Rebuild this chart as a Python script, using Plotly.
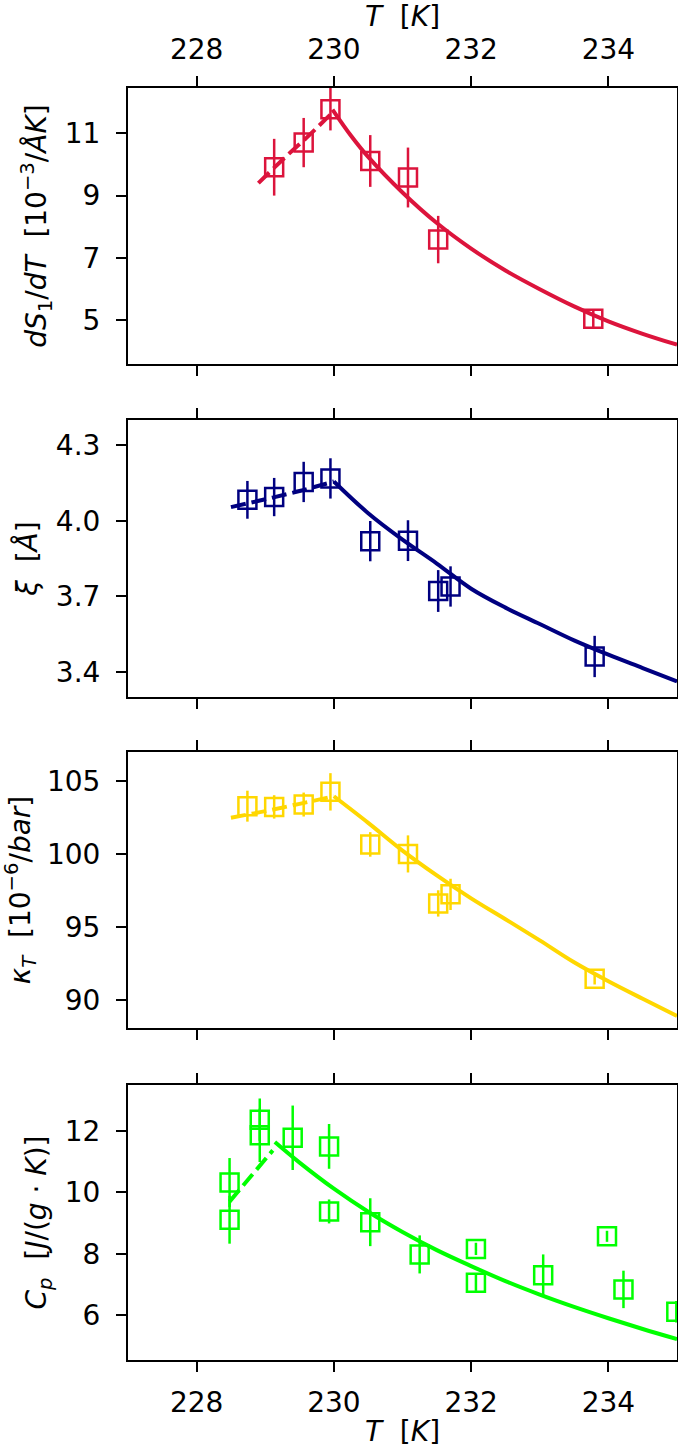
import plotly.graph_objects as go

# ---------------- data ----------------
x_ticks = [228, 230, 232, 234]

# panel 1: dS1/dT
T1 = [229.13, 229.56, 229.95, 230.53, 231.08, 231.52, 233.78]
S1 = [9.91, 10.70, 11.77, 10.11, 9.58, 7.59, 5.05]
S1_err = [0.91, 0.79, 0.68, 0.83, 0.96, 0.76, 0.30]
T1_fit = [229.98, 230.25, 230.5, 231.0, 231.5, 232.0, 232.5, 233.0, 233.5, 234.0, 234.5, 235.0]
S1_fit = [11.76, 10.92, 10.24, 9.10, 8.12, 7.30, 6.60, 6.00, 5.45, 4.97, 4.57, 4.22]
T1_dash = [228.9, 229.3, 229.6, 229.95]
S1_dash = [9.40, 10.25, 10.85, 11.60]
S1_ticks = [5, 7, 9, 11]

# panel 2: xi
T2 = [228.74, 229.13, 229.56, 229.95, 230.53, 231.08, 231.52, 231.70, 233.80]
XI = [4.083, 4.094, 4.154, 4.168, 3.919, 3.921, 3.721, 3.739, 3.461]
XI_err = [0.075, 0.076, 0.080, 0.080, 0.080, 0.081, 0.083, 0.080, 0.082]
T2_fit = [230.0, 230.5, 231.0, 231.5, 232.0, 232.5, 233.0, 233.5, 234.0, 234.5, 235.0]
XI_fit = [4.156, 4.030, 3.925, 3.830, 3.730, 3.655, 3.590, 3.525, 3.468, 3.415, 3.362]
T2_dash = [228.5, 229.0, 229.5, 230.0]
XI_dash = [4.054, 4.085, 4.118, 4.156]
XI_ticks = [3.4, 3.7, 4.0, 4.3]

# panel 3: kappa_T
T3 = [228.74, 229.13, 229.56, 229.95, 230.53, 231.08, 231.52, 231.70, 233.80]
KT = [103.29, 103.24, 103.40, 104.27, 100.67, 100.02, 96.63, 97.25, 91.48]
KT_err = [1.06, 0.80, 0.82, 1.28, 0.84, 1.27, 0.90, 1.07, 0.40]
T3_fit = [230.0, 230.5, 231.0, 231.5, 232.0, 232.5, 233.0, 233.5, 234.0, 234.5, 235.0]
KT_fit = [103.97, 102.15, 100.25, 98.55, 96.98, 95.55, 94.10, 92.60, 91.30, 90.10, 88.93]
T3_dash = [228.5, 229.0, 229.5, 230.0]
KT_dash = [102.50, 102.95, 103.45, 103.97]
KT_ticks = [90, 95, 100, 105]

# panel 4: Cp
T4 = [228.48, 228.48, 228.92, 228.92, 229.40, 229.93, 229.93, 230.53, 231.25,
      232.07, 232.07, 233.05, 233.98, 234.22, 234.99]
CP = [10.32, 9.11, 12.37, 11.86, 11.78, 11.50, 9.38, 9.03, 7.98,
      8.16, 7.06, 7.30, 8.57, 6.84, 6.11]
CP_err = [0.80, 0.78, 0.69, 0.87, 1.05, 0.73, 0.39, 0.78, 0.62,
          0.20, 0.27, 0.68, 0.18, 0.61, 0.35]
T4_fit = [229.14, 229.5, 230.0, 230.5, 231.0, 231.5, 232.0, 232.5, 233.0, 233.5, 234.0, 234.5, 235.0]
CP_fit = [11.64, 10.97, 10.12, 9.37, 8.71, 8.12, 7.60, 7.11, 6.67, 6.27, 5.90, 5.55, 5.22]
T4_dash = [228.48, 228.8, 229.11]
CP_dash = [9.70, 10.55, 11.37]
CP_ticks = [6, 8, 10, 12]

# ---------------- styling ----------------
W, H = 678, 1452
FONT = "DejaVu Sans"
FS = 28
NB = "\u00a0"

panels = [
    dict(T=T1, Y=S1, E=S1_err, Tf=T1_fit, Yf=S1_fit, Td=T1_dash, Yd=S1_dash,
         color="#DC143C", yrange=[3.6, 12.45], yticks=S1_ticks, ytickfmt=None,
         title="<i>dS</i><sub>1</sub>/<i>dT</i>" + NB * 2 + "[10<sup>−3</sup>/<i>ÅK</i>]",
         domain=[0.7830, 1.0]),
    dict(T=T2, Y=XI, E=XI_err, Tf=T2_fit, Yf=XI_fit, Td=T2_dash, Yd=XI_dash,
         color="#000080", yrange=[3.30, 4.40], yticks=XI_ticks, ytickfmt=".1f",
         title="<i>ξ</i>" + NB * 2 + "[<i>Å</i>]",
         domain=[0.5212, 0.7390]),
    dict(T=T3, Y=KT, E=KT_err, Tf=T3_fit, Yf=KT_fit, Td=T3_dash, Yd=KT_dash,
         color="#FFD700", yrange=[88.1, 107.0], yticks=KT_ticks, ytickfmt=None,
         title="<i>κ</i><sub><i>T</i></sub>" + NB * 2 + "[10<sup>−6</sup>/<i>bar</i>]",
         domain=[0.2610, 0.4780]),
    dict(T=T4, Y=CP, E=CP_err, Tf=T4_fit, Yf=CP_fit, Td=T4_dash, Yd=CP_dash,
         color="#00FF00", yrange=[4.54, 13.5], yticks=CP_ticks, ytickfmt=None,
         title="<i>C</i><sub><i>p</i></sub>" + NB * 2 + "[<i>J</i>/(<i>g</i>" + NB + "·" + NB + "<i>K</i>)]",
         domain=[0.0, 0.2162]),
]

fig = go.Figure()
layout = {}
for i, p in enumerate(panels, start=1):
    xa = "x" if i == 1 else f"x{i}"
    ya = "y" if i == 1 else f"y{i}"
    c = p["color"]
    # dashed fit (low-T side)
    fig.add_trace(go.Scatter(x=p["Td"], y=p["Yd"], mode="lines", xaxis=xa, yaxis=ya,
                             line=dict(color=c, width=4, dash="15px,6px", shape="spline"),
                             showlegend=False, hoverinfo="skip"))
    # solid fit (high-T side)
    fig.add_trace(go.Scatter(x=p["Tf"], y=p["Yf"], mode="lines", xaxis=xa, yaxis=ya,
                             line=dict(color=c, width=4, shape="spline"),
                             showlegend=False, hoverinfo="skip"))
    # data with error bars
    fig.add_trace(go.Scatter(x=p["T"], y=p["Y"], mode="markers", xaxis=xa, yaxis=ya,
                             marker=dict(symbol="square-open", size=18, color=c,
                                         line=dict(color=c, width=2.5)),
                             error_y=dict(type="data", array=p["E"], visible=True,
                                          color=c, thickness=2.5, width=0),
                             cliponaxis=True, showlegend=False))

    xaxis = dict(anchor=ya, domain=[0, 1], range=[227, 235], tickvals=x_ticks,
                 showline=True, linecolor="black", linewidth=2, mirror="ticks",
                 ticks="outside", ticklen=10, tickwidth=2, tickcolor="black",
                 showgrid=False, zeroline=False, automargin=False,
                 tickfont=dict(family=FONT, size=FS, color="black"),
                 ticklabelstandoff=6)
    if i == 1:
        xaxis.update(side="top", showticklabels=True,
                     title=dict(text="<i>T</i>" + NB * 2 + "[<i>K</i>]",
                                font=dict(family=FONT, size=FS, color="black"),
                                standoff=4))
    elif i == 4:
        xaxis.update(side="bottom", showticklabels=True,
                     title=dict(text="<i>T</i>" + NB * 2 + "[<i>K</i>]",
                                font=dict(family=FONT, size=FS, color="black"),
                                standoff=4))
    else:
        xaxis.update(showticklabels=False)
    if i > 1:
        xaxis.update(matches="x")

    yaxis = dict(anchor=xa, domain=p["domain"], range=p["yrange"], tickvals=p["yticks"],
                 showline=True, linecolor="black", linewidth=2, mirror=True,
                 ticks="outside", ticklen=10, tickwidth=2, tickcolor="black",
                 showgrid=False, zeroline=False, automargin=False,
                 tickfont=dict(family=FONT, size=FS, color="black"),
                 ticklabelstandoff=10,
                 title=dict(text=p["title"], font=dict(family=FONT, size=FS, color="black"),
                            standoff=10))
    if p["ytickfmt"]:
        yaxis.update(tickformat=p["ytickfmt"])

    layout["xaxis" if i == 1 else f"xaxis{i}"] = xaxis
    layout["yaxis" if i == 1 else f"yaxis{i}"] = yaxis

fig.update_layout(**layout)
fig.update_layout(width=W, height=H, margin=dict(l=128, r=1, t=88, b=92),
                  paper_bgcolor="white", plot_bgcolor="white",
                  font=dict(family=FONT, size=FS, color="black"),
                  showlegend=False)

# remove the default 8px page margin so the figure fills the window exactly
fig.write_html("out.html",
               config={"displayModeBar": False},
               post_script="document.body.style.margin='0';document.body.style.overflow='hidden';")
